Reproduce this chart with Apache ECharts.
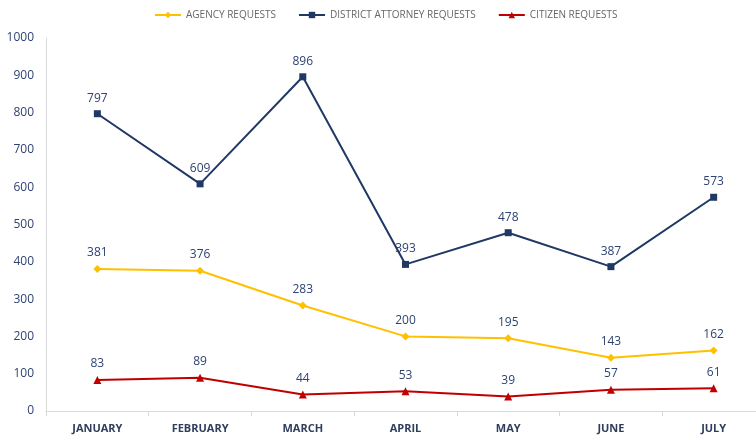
<!DOCTYPE html>
<html><head><meta charset="utf-8">
<script src="https://cdn.jsdelivr.net/npm/echarts@6/dist/echarts.min.js"></script>
<style>html,body{margin:0;padding:0;background:#fff;overflow:hidden}#c{width:768px;height:440px}</style>
</head><body><div id="c"></div>
<script>
const categories = ["JANUARY","FEBRUARY","MARCH","APRIL","MAY","JUNE","JULY"];
const agency = [381,376,283,200,195,143,162];
const districtAttorney = [797,609,896,393,478,387,573];
const citizen = [83,89,44,53,39,57,61];
const yTicks = {min:0,max:1000,interval:100};

const chart = echarts.init(document.getElementById('c'));
const lbl = {show:true,position:'top',distance:6,color:'#2E4372',fontSize:12,fontFamily:'Open Sans'};
chart.setOption({
  animation:false,
  legend:{top:5,left:149,itemWidth:26,itemHeight:8,itemGap:22,
    textStyle:{color:'#666666',fontSize:10,fontFamily:'Open Sans'},
    data:['AGENCY REQUESTS','DISTRICT ATTORNEY REQUESTS','CITIZEN REQUESTS']},
  grid:{left:46,top:38,width:719,height:373},
  xAxis:{type:'category',data:categories,boundaryGap:true,
    axisLine:{lineStyle:{color:'#D9D9D9'}},
    axisTick:{show:true,lineStyle:{color:'#D9D9D9'},length:5},
    axisLabel:{color:'#2E3E5C',fontSize:11,fontWeight:'bold',fontFamily:'Open Sans',margin:12}},
  yAxis:{type:'value',min:yTicks.min,max:yTicks.max,interval:yTicks.interval,
    axisLine:{show:true,lineStyle:{color:'#D9D9D9'}},
    axisTick:{show:false},splitLine:{show:false},
    axisLabel:{color:'#2E4372',fontSize:12,fontFamily:'Open Sans',margin:12,formatter:v=>String(v)}},
  series:[
    {name:'AGENCY REQUESTS',type:'line',data:agency,color:'#FFC000',symbol:'diamond',symbolSize:8,
      lineStyle:{width:2},label:lbl},
    {name:'DISTRICT ATTORNEY REQUESTS',type:'line',data:districtAttorney,color:'#203864',symbol:'rect',symbolSize:7,
      lineStyle:{width:2},label:lbl},
    {name:'CITIZEN REQUESTS',type:'line',data:citizen,color:'#C00000',symbol:'triangle',symbolSize:8,
      lineStyle:{width:2},label:lbl}
  ]
});
</script></body></html>
